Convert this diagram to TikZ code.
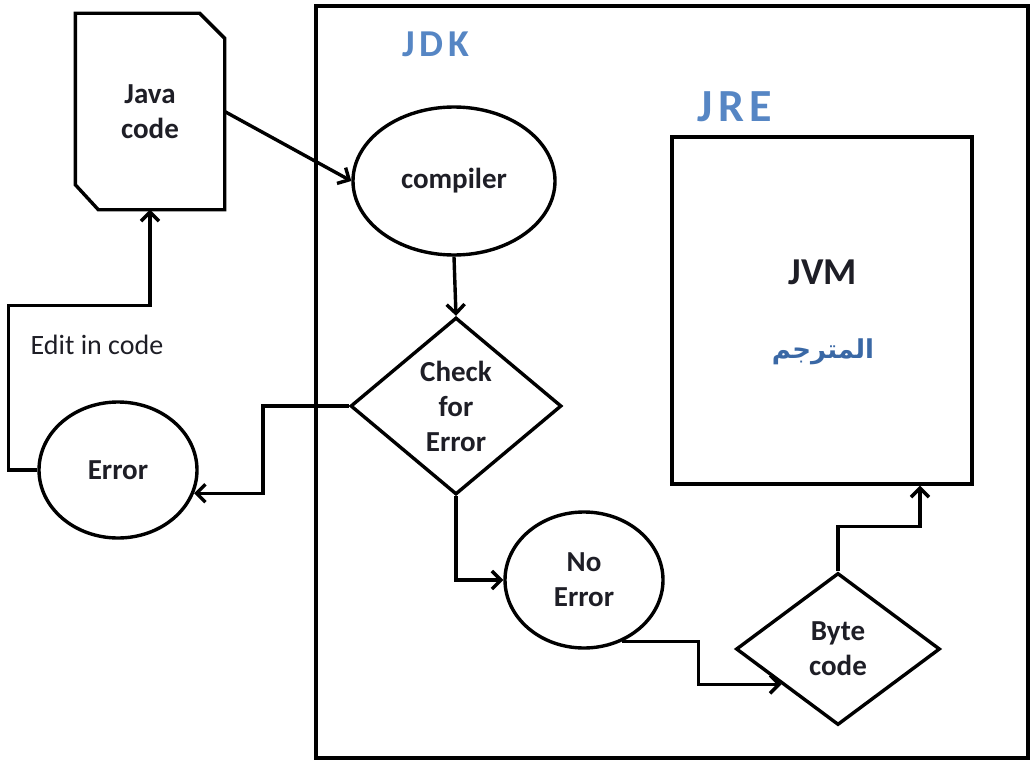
\documentclass[tikz,border=0pt]{standalone}
\usepackage{fontspec}
\setmainfont{Carlito}
\newfontfamily\arabicfont[Script=Arabic]{DejaVu Sans}
\TeXXeTstate=1
\usetikzlibrary{shapes.geometric,arrows.meta}

\definecolor{ink}{RGB}{30,30,38}
\definecolor{jblue}{RGB}{86,134,196}
\definecolor{ablue}{RGB}{58,104,165}

\tikzset{
	flow/.style={-{Straight Barb[length=9pt,width=18pt]}},
	txt/.style={text=ink,align=center,font=\bfseries\fontsize{29}{35}\selectfont},
	bubble/.style={txt,draw,ellipse,inner sep=0pt},
	decision/.style={txt,draw,diamond,inner sep=0pt},
	box/.style={draw,rectangle,inner sep=0pt},
	wordart/.style={text=jblue,font=\bfseries\addfontfeature{LetterSpace=12}\fontsize{#1}{#1}\selectfont}
}

\begin{document}
\begin{tikzpicture}[x=1pt,y=-1pt,line width=3.4pt]
\useasboundingbox (0,0) rectangle (1031,760);

% JDK / JRE

\node[box,minimum width=712,minimum height=752] (jdk) at (672,382) {};
\node[wordart=38] (jdklbl) at (436,44) {JDK};
\node[box,minimum width=300,minimum height=347] (jre) at (822,310.5) {};
\node[wordart=46] (jrelbl) at (735,107) {JRE};
\node[txt,font=\bfseries\fontsize{38}{38}\selectfont] (jvm) at (823,272) {JVM};
\node[text=ablue,font=\arabicfont\bfseries\fontsize{26}{26}\selectfont] (jvmar) at (823,352) {\beginR المترجم\endR};

% JAVA CODE

\node[txt,minimum width=146,minimum height=193,inner sep=0pt] (java) at (150,111.5) {Java\\code};
\draw (java.north west) -- ([xshift=-25]java.north east) -- ([yshift=-25]java.north east)
	-- (java.south east) -- ([xshift=23]java.south west) -- ([yshift=25]java.south west) -- cycle;

% FLOW

\node[bubble,minimum width=202,minimum height=148] (compiler) at (454,181) {compiler};
\node[decision,minimum width=211,minimum height=177] (check) at (456,406) {Check\\for\\Error};
\node[bubble,minimum width=158,minimum height=136] (error) at (118,470) {Error};
\node[bubble,minimum width=158,minimum height=136] (noerror) at (584,580) {No\\Error};
\node[decision,minimum width=204,minimum height=152] (byte) at (838,649) {Byte\\code};
\node[text=ink,font=\fontsize{28}{35}\selectfont] (edit) at (97,345) {Edit in code};

\draw[flow] (java.east) -- (compiler.west);
\draw[flow] (compiler.south) -- (check.north);
\draw[flow] (check.west) -- ++(-86,0) |- (error.-17);
\draw[flow] (error.west) -- ++(-29,0) |- ([yshift=-96]java.south) -- (java.south);
\draw[flow] (check.south) |- (noerror.west);
\draw[flow] (noerror.-58) -- ++(76,0) |- (byte.-148);
\draw[flow] (byte.north) -- ++(0,-45) -| ([xshift=98]jre.south);

\end{tikzpicture}
\end{document}
